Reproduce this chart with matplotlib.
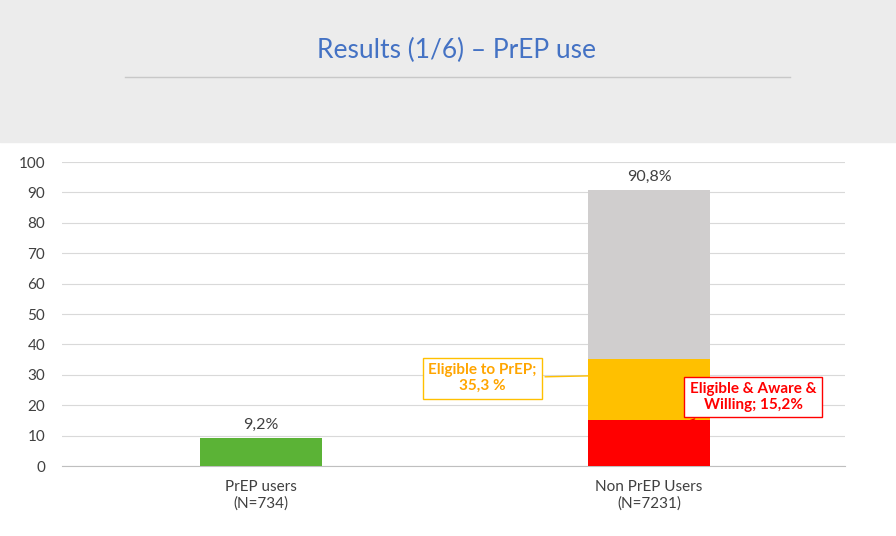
import matplotlib
matplotlib.use('Agg')
import matplotlib.pyplot as plt
from matplotlib.patches import Rectangle

plt.rcParams['font.family'] = ['Lato', 'DejaVu Sans']

categories = ['PrEP users\n(N=734)', 'Non PrEP Users\n(N=7231)']
prep_users = 9.2
eligible_aware = 15.2
eligible = 35.3
non_users = 90.8
yticks = list(range(0, 101, 10))

fig = plt.figure(figsize=(8.96, 5.36), dpi=100)

# slide header
fig.patches.append(Rectangle((0, 1 - 142 / 536), 1, 142 / 536, transform=fig.transFigure,
                             color='#ececec', zorder=0))
fig.text(0.51, 1 - 50 / 536, 'Results (1/6) – PrEP use', ha='center', va='center',
         fontsize=19, color='#4472c4')
fig.add_artist(plt.Line2D([125 / 896, 790 / 896], [1 - 77 / 536] * 2,
                          transform=fig.transFigure, color='#c8c8c8', lw=1))

ax = fig.add_axes([62 / 896, 1 - 466 / 536, 783 / 896, 304 / 536])
w = 0.314
ax.bar(0, prep_users, width=w, color='#5bb336', zorder=3)
ax.bar(1, eligible_aware, width=w, color='#ff0000', zorder=3)
ax.bar(1, eligible - eligible_aware, bottom=eligible_aware, width=w, color='#ffc000', zorder=3)
ax.bar(1, non_users - eligible, bottom=eligible, width=w, color='#d0cece', zorder=3)

ax.text(0, prep_users + 2, '9,2%', ha='center', va='bottom', fontsize=11.5, color='#404040')
ax.text(1, non_users + 2, '90,8%', ha='center', va='bottom', fontsize=11.5, color='#404040')

ax.annotate('Eligible to PrEP;\n35,3 %', xy=(0.977, 30), xytext=(0.57, 28.9),
            ha='center', va='center', fontsize=11, color='#ffa500', fontweight='bold',
            bbox=dict(boxstyle='square,pad=0.35', fc='white', ec='#ffc000', lw=1),
            arrowprops=dict(arrowstyle='-', color='#ffc000', lw=1), zorder=5)
ax.annotate('Eligible & Aware &\nWilling; 15,2%', xy=(1.028, 11.2), xytext=(1.268, 22.7),
            ha='center', va='center', fontsize=11, color='#ff0000', fontweight='bold',
            bbox=dict(boxstyle='square,pad=0.35', fc='white', ec='#ff0000', lw=1),
            arrowprops=dict(arrowstyle='-', color='#ff0000', lw=1), zorder=5)

ax.set_xlim(-0.513, 1.505)
ax.set_ylim(0, 100)
ax.set_yticks(yticks)
ax.set_xticks([0, 1])
ax.set_xticklabels(categories, fontsize=11, color='#404040')
ax.tick_params(axis='y', labelsize=11, labelcolor='#404040', length=0, pad=12)
ax.tick_params(axis='x', length=0, pad=10)
ax.grid(axis='y', color='#d9d9d9', lw=0.8, zorder=0)
for s in ['top', 'right', 'left']:
    ax.spines[s].set_visible(False)
ax.spines['bottom'].set_color('#bfbfbf')

fig.savefig('out.png', dpi=100)
